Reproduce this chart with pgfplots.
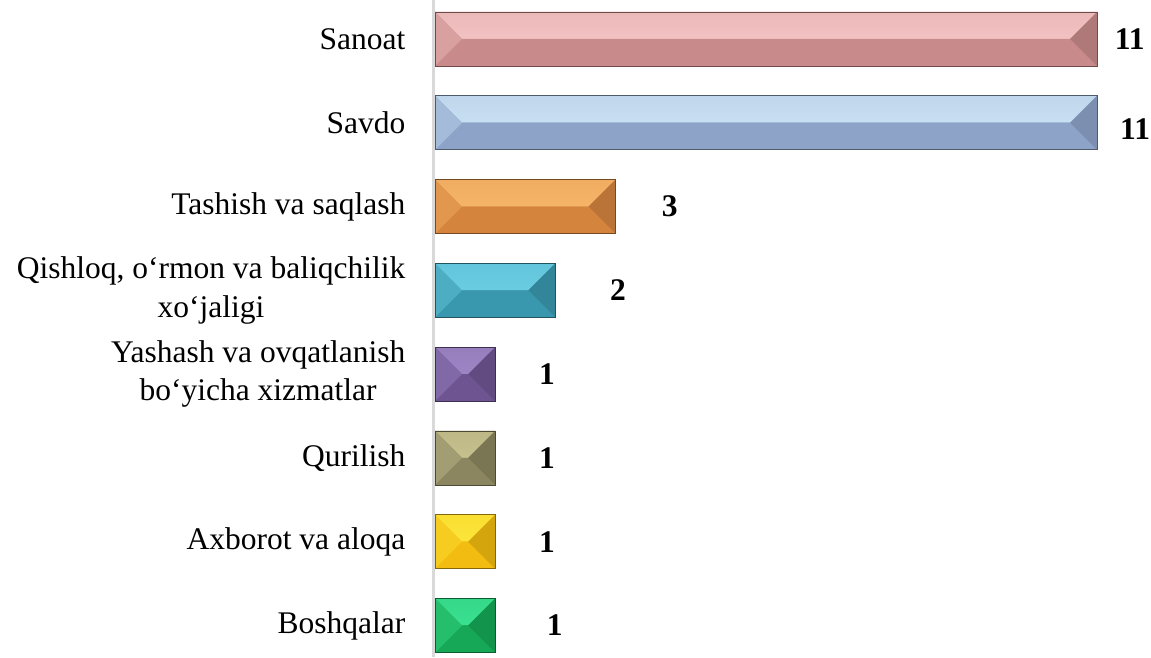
\documentclass[border=0pt]{standalone}
\usepackage{fontspec}
\setmainfont{Liberation Serif}
\usepackage{pgfplots}
\pgfplotsset{compat=1.18}
\usetikzlibrary{calc}

% colours: light (top band), base, for each category
\definecolor{sanL}{HTML}{FFD2D2}\definecolor{sanB}{HTML}{C88A8A}
\definecolor{savL}{HTML}{DAF2FF}\definecolor{savB}{HTML}{8DA3C8}
\definecolor{tasL}{HTML}{FFC375}\definecolor{tasB}{HTML}{D5843E}
\definecolor{qisL}{HTML}{78DDF2}\definecolor{qisB}{HTML}{3A98AE}
\definecolor{yasL}{HTML}{AC94D4}\definecolor{yasB}{HTML}{6E5592}
\definecolor{qurL}{HTML}{D9D29C}\definecolor{qurB}{HTML}{8B8660}
\definecolor{axbL}{HTML}{FFF145}\definecolor{axbB}{HTML}{F2BC10}
\definecolor{bosL}{HTML}{45F2A2}\definecolor{bosB}{HTML}{16A857}

\pgfplotsset{
  bevel/.style 2 args={
    xbar, bar width=54pt, bar shift=0pt,
    fill=#2, draw=#2!55!black, line width=0.7pt,
    path picture={
      \path let \p1=(path picture bounding box.north west),
                \p2=(path picture bounding box.south east),
                \n1={0.5*(\y1-\y2)} in
        [path picture={}, shade, draw=none, top color=#1!65!#2, middle color=#1, bottom color=#1!88!#2]
        (\x1,\y1) -- (\x2,\y1) -- (\x2-\n1,\y1-\n1) -- (\x1+\n1,\y1-\n1) -- cycle;
      \path let \p1=(path picture bounding box.north west),
                \p2=(path picture bounding box.south east),
                \n1={0.5*(\y1-\y2)} in
        [path picture={}, fill=#2, draw=none]
        (\x1,\y2) -- (\x2,\y2) -- (\x2-\n1,\y2+\n1) -- (\x1+\n1,\y2+\n1) -- cycle;
      \path let \p1=(path picture bounding box.north west),
                \p2=(path picture bounding box.south east),
                \n1={0.5*(\y1-\y2)} in
        [path picture={}, fill=#2!70!#1, draw=none]
        (\x1,\y1) -- (\x1+\n1,\y1-\n1) -- (\x1,\y2) -- cycle;
      \path let \p1=(path picture bounding box.north west),
                \p2=(path picture bounding box.south east),
                \n1={0.5*(\y1-\y2)} in
        [path picture={}, fill=#2!88!black, draw=none]
        (\x2,\y1) -- (\x2-\n1,\y1-\n1) -- (\x2,\y2) -- cycle;
    }
  }
}

\begin{document}
\begin{tikzpicture}
\useasboundingbox (0,0) rectangle (1151pt,657pt);
\begin{axis}[
  at={(433.5pt,0pt)}, anchor=south west,
  scale only axis, width=717.5pt, height=657pt,
  xmin=-0.025, xmax=11.894,
  ymin=0.624, ymax=8.465,
  clip=false,
  axis lines*=left,
  x axis line style={draw=none},
  y axis line style={draw=gray!30, line width=2.5pt},
  xtick=\empty,
  ytick={1,2,3,4,5,6,7,8},
  yticklabels={Boshqalar, Axborot va aloqa, Qurilish,
    {Yashash va ovqatlanish\\bo‘yicha xizmatlar},
    {Qishloq, o‘rmon va baliqchilik\\xo‘jaligi},
    Tashish va saqlash, Savdo, Sanoat},
  major tick length=0pt,
  yticklabel style={anchor=east, align=center, inner sep=0pt, xshift=-28pt,
    font=\fontsize{31.5}{38.5}\selectfont},
]
\addplot[bevel={sanL}{sanB}] coordinates {(11,8)};
\addplot[bevel={savL}{savB}] coordinates {(11,7)};
\addplot[bevel={tasL}{tasB}] coordinates {(3,6)};
\addplot[bevel={qisL}{qisB}] coordinates {(2,5)};
\addplot[bevel={yasL}{yasB}] coordinates {(1,4)};
\addplot[bevel={qurL}{qurB}] coordinates {(1,3)};
\addplot[bevel={axbL}{axbB}] coordinates {(1,2)};
\addplot[bevel={bosL}{bosB}] coordinates {(1,1)};
% value labels
\addplot[only marks, mark=none, point meta=explicit symbolic,
  nodes near coords,
  every node near coord/.append style={anchor=center, inner sep=0pt,
    font=\fontsize{31.5}{37.5}\selectfont\bfseries}]
  coordinates {(11.54,8)[11] (11.63,6.92)[11] (3.90,6)[3] (3.04,5)[2]
               (1.86,4)[1] (1.86,3)[1] (1.86,2)[1] (1.99,1)[1]};
\end{axis}
\end{tikzpicture}
\end{document}
